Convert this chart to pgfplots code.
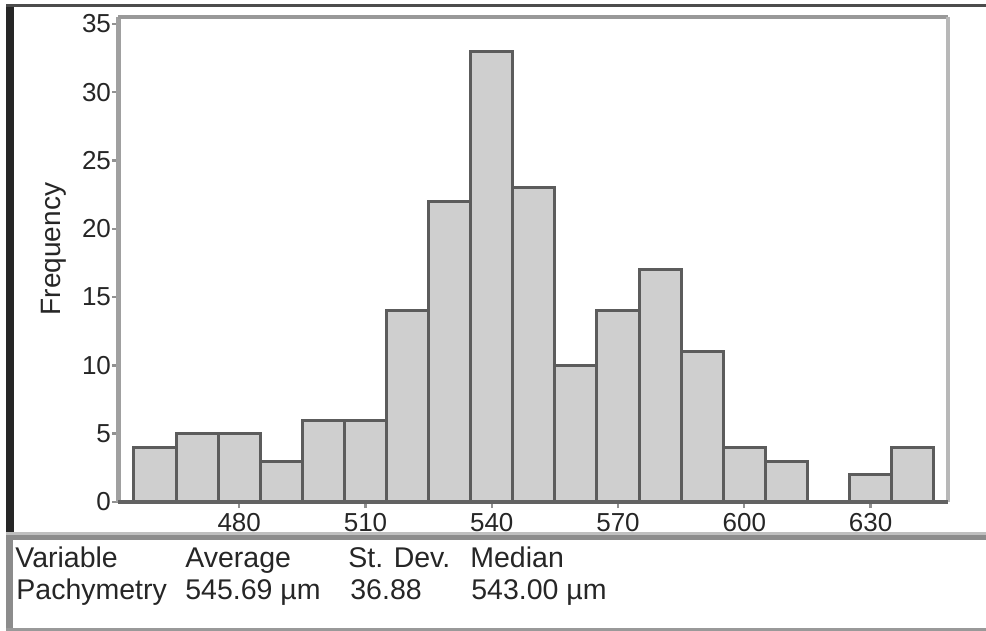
\documentclass[border=0pt]{standalone}
\usepackage{pgfplots}
\pgfplotsset{compat=1.18}
\usepackage{fontspec}
\setmainfont{Liberation Sans}
\definecolor{barfill}{HTML}{CFCFCF}
\definecolor{baredge}{HTML}{5C5C5C}
\definecolor{framegray}{HTML}{A0A0A0}
\definecolor{axisdark}{HTML}{626262}
\begin{document}
\begin{tikzpicture}
\begin{scope}[x=0.5pt,y=-0.5pt]
\path[use as bounding box] (0,0) rectangle (986,631);
% outer frame
\fill[white] (0,0) rectangle (986,631);
\fill[black!85] (6,5) rectangle (14,535);
\fill[black!70] (6,4.5) rectangle (986,7.5);
\fill[black!45] (6,535) rectangle (13,628);
\fill[black!25] (6,532) rectangle (986,535);
\fill[black!45] (6,535) rectangle (986,540);
\fill[black!40] (6,628) rectangle (986,631);
% y label
\node[rotate=90, font=\fontsize{14}{16}\selectfont, inner sep=0pt, text=black!85] at (54,249) {Frequency};
% statistics
\begin{scope}[every node/.style={anchor=base west, inner sep=0pt, font=\fontsize{14.25}{16}\selectfont, text=black!85}]
\node at (15,567) {Variable};
\node at (185,567) {Average};
\node at (348,567) {St. Dev.};
\node at (470,567) {Median};
\node at (16,599) {Pachymetry};
\node at (185,599) {545.69 µm};
\node at (350,599) {36.88};
\node at (471,599) {543.00 µm};
\end{scope}
\end{scope}
\begin{axis}[
  at={(59pt,-251pt)}, anchor=south west,
  scale only axis, width=415pt, height=242.5pt,
  xmin=451.2, xmax=648.4, ymin=0, ymax=35.5,
  xtick={480,510,540,570,600,630},
  ytick={0,5,10,15,20,25,30,35},
  tick pos=left, tick align=outside,
  major tick length=3pt,
  tick style={draw=axisdark!70, line width=1.2pt},
  axis line style={draw=none},
  ticklabel style={font=\fontsize{13}{15}\selectfont, text=black!85},
  /pgf/number format/assume math mode=true,
  yticklabel style={xshift=3pt},
  xticklabel style={yshift=1pt},
  clip=false,
]
\addplot[ybar interval, fill=barfill, draw=baredge, line width=1.5pt]
coordinates {(455,4) (465,5) (475,5) (485,3) (495,6) (505,6) (515,14) (525,22) (535,33) (545,23) (555,10) (565,14) (575,17) (585,11) (595,4) (605,3) (615,0) (625,2) (635,4) (645,0)};
\draw[framegray, line width=2.5pt] (rel axis cs:0,0) -- (rel axis cs:0,1);
\draw[black!40, line width=2pt] (rel axis cs:0,1) -- (rel axis cs:1,1);
\draw[black!28, line width=2.2pt] (rel axis cs:1,1) -- (rel axis cs:1,0);
\draw[axisdark, line width=2pt] (rel axis cs:0,0) -- (rel axis cs:1,0);
\end{axis}
\end{tikzpicture}
\end{document}
